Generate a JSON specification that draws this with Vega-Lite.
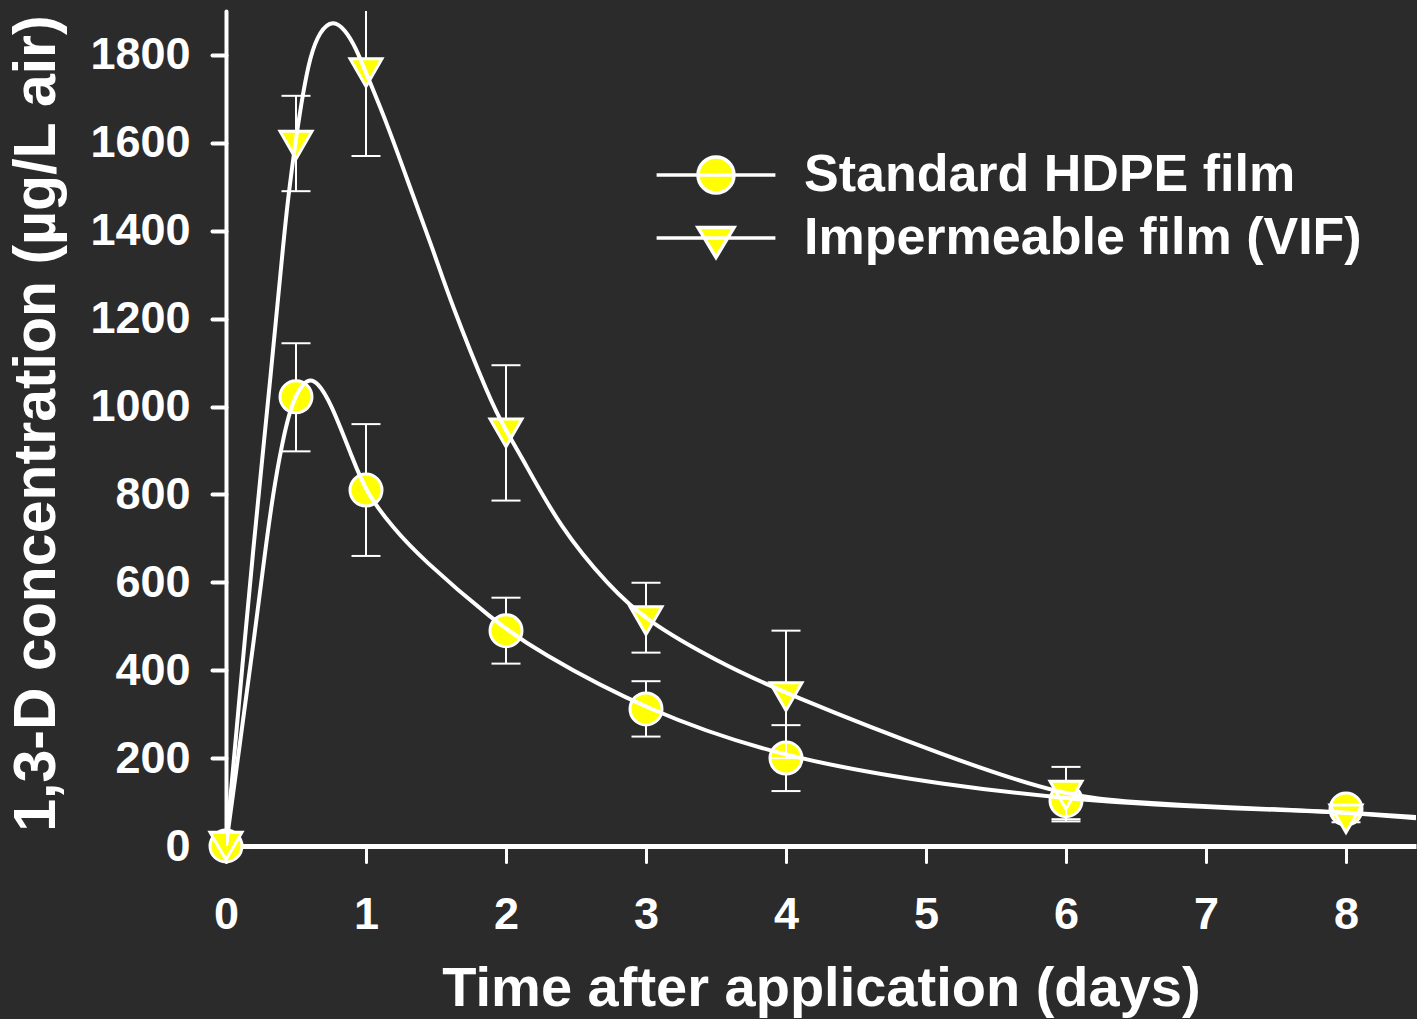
{
  "$schema": "https://vega.github.io/schema/vega-lite/v6.json",
  "width": 1190,
  "height": 835,
  "autosize": {"type": "none"},
  "padding": {"left": 226, "top": 11, "right": 1, "bottom": 173},
  "background": "#2b2b2b",
  "config": {"view": {"stroke": null}, "font": "Liberation Sans"},
  "datasets": {
    "points": [
      {"series": "Standard HDPE film", "t": 0, "v": 0, "lo": 0, "hi": 0},
      {"series": "Standard HDPE film", "t": 0.5, "v": 1022, "lo": 898, "hi": 1144},
      {"series": "Standard HDPE film", "t": 1, "v": 810, "lo": 660, "hi": 960},
      {"series": "Standard HDPE film", "t": 2, "v": 490, "lo": 415, "hi": 565},
      {"series": "Standard HDPE film", "t": 3, "v": 312, "lo": 249, "hi": 375},
      {"series": "Standard HDPE film", "t": 4, "v": 200, "lo": 125, "hi": 275},
      {"series": "Standard HDPE film", "t": 6, "v": 103, "lo": 61, "hi": 145},
      {"series": "Standard HDPE film", "t": 8, "v": 84, "lo": 74, "hi": 94},
      {"series": "Impermeable film (VIF)", "t": 0, "v": 0, "lo": 0, "hi": 0},
      {"series": "Impermeable film (VIF)", "t": 0.5, "v": 1595, "lo": 1490, "hi": 1707},
      {"series": "Impermeable film (VIF)", "t": 1, "v": 1760, "lo": 1570, "hi": 1950},
      {"series": "Impermeable film (VIF)", "t": 2, "v": 940, "lo": 786, "hi": 1094},
      {"series": "Impermeable film (VIF)", "t": 3, "v": 513, "lo": 440, "hi": 599},
      {"series": "Impermeable film (VIF)", "t": 4, "v": 340, "lo": 200, "hi": 490},
      {"series": "Impermeable film (VIF)", "t": 6, "v": 116, "lo": 56, "hi": 180},
      {"series": "Impermeable film (VIF)", "t": 8, "v": 62, "lo": 54, "hi": 70}
    ],
    "curves": [
      {"series": "Standard HDPE film", "t": 0, "v": 0},
      {"series": "Standard HDPE film", "t": 0.1, "v": 235},
      {"series": "Standard HDPE film", "t": 0.2, "v": 470},
      {"series": "Standard HDPE film", "t": 0.278, "v": 667},
      {"series": "Standard HDPE film", "t": 0.336, "v": 802},
      {"series": "Standard HDPE film", "t": 0.4, "v": 916},
      {"series": "Standard HDPE film", "t": 0.457, "v": 991},
      {"series": "Standard HDPE film", "t": 0.5, "v": 1026},
      {"series": "Standard HDPE film", "t": 0.55, "v": 1052},
      {"series": "Standard HDPE film", "t": 0.6, "v": 1062},
      {"series": "Standard HDPE film", "t": 0.65, "v": 1056},
      {"series": "Standard HDPE film", "t": 0.743, "v": 1014},
      {"series": "Standard HDPE film", "t": 0.91, "v": 877},
      {"series": "Standard HDPE film", "t": 1.0, "v": 805},
      {"series": "Standard HDPE film", "t": 1.19, "v": 725},
      {"series": "Standard HDPE film", "t": 1.39, "v": 656},
      {"series": "Standard HDPE film", "t": 1.91, "v": 513},
      {"series": "Standard HDPE film", "t": 2.22, "v": 444},
      {"series": "Standard HDPE film", "t": 3.0, "v": 308},
      {"series": "Standard HDPE film", "t": 4.0, "v": 198},
      {"series": "Standard HDPE film", "t": 5.17, "v": 137},
      {"series": "Standard HDPE film", "t": 6.0, "v": 108},
      {"series": "Standard HDPE film", "t": 6.5, "v": 97},
      {"series": "Standard HDPE film", "t": 7.0, "v": 88},
      {"series": "Standard HDPE film", "t": 7.55, "v": 82},
      {"series": "Standard HDPE film", "t": 8.0, "v": 76},
      {"series": "Standard HDPE film", "t": 8.5, "v": 63},
      {"series": "Impermeable film (VIF)", "t": 0, "v": 0},
      {"series": "Impermeable film (VIF)", "t": 0.1, "v": 350},
      {"series": "Impermeable film (VIF)", "t": 0.186, "v": 651},
      {"series": "Impermeable film (VIF)", "t": 0.33, "v": 1105},
      {"series": "Impermeable film (VIF)", "t": 0.4, "v": 1340},
      {"series": "Impermeable film (VIF)", "t": 0.443, "v": 1476},
      {"series": "Impermeable film (VIF)", "t": 0.505, "v": 1622},
      {"series": "Impermeable film (VIF)", "t": 0.55, "v": 1713},
      {"series": "Impermeable film (VIF)", "t": 0.6, "v": 1796},
      {"series": "Impermeable film (VIF)", "t": 0.67, "v": 1855},
      {"series": "Impermeable film (VIF)", "t": 0.764, "v": 1880},
      {"series": "Impermeable film (VIF)", "t": 0.85, "v": 1858},
      {"series": "Impermeable film (VIF)", "t": 0.93, "v": 1815},
      {"series": "Impermeable film (VIF)", "t": 1.0, "v": 1759},
      {"series": "Impermeable film (VIF)", "t": 1.15, "v": 1645},
      {"series": "Impermeable film (VIF)", "t": 1.34, "v": 1476},
      {"series": "Impermeable film (VIF)", "t": 1.48, "v": 1356},
      {"series": "Impermeable film (VIF)", "t": 1.6, "v": 1242},
      {"series": "Impermeable film (VIF)", "t": 1.886, "v": 1014},
      {"series": "Impermeable film (VIF)", "t": 2.0, "v": 945},
      {"series": "Impermeable film (VIF)", "t": 2.1, "v": 892},
      {"series": "Impermeable film (VIF)", "t": 2.39, "v": 722},
      {"series": "Impermeable film (VIF)", "t": 2.74, "v": 590},
      {"series": "Impermeable film (VIF)", "t": 3.0, "v": 513},
      {"series": "Impermeable film (VIF)", "t": 3.5, "v": 421},
      {"series": "Impermeable film (VIF)", "t": 4.0, "v": 346},
      {"series": "Impermeable film (VIF)", "t": 5.17, "v": 200},
      {"series": "Impermeable film (VIF)", "t": 6.0, "v": 112},
      {"series": "Impermeable film (VIF)", "t": 6.5, "v": 100},
      {"series": "Impermeable film (VIF)", "t": 7.0, "v": 90},
      {"series": "Impermeable film (VIF)", "t": 8.0, "v": 77},
      {"series": "Impermeable film (VIF)", "t": 8.5, "v": 66}
    ]
  },
  "encoding": {
    "x": {
      "field": "t", "type": "quantitative",
      "scale": {"domain": [0, 8.5], "nice": false, "zero": false},
      "axis": {
        "values": [0, 1, 2, 3, 4, 5, 6, 7, 8],
        "format": "d",
        "grid": false,
        "domainColor": "#ffffff", "domainWidth": 5,
        "tickColor": "#ffffff", "tickWidth": 3, "tickSize": 16, "tickCap": "round",
        "labelColor": "#ffffff", "labelFontSize": 45, "labelFontWeight": "bold",
        "labelFont": "Liberation Sans", "labelPadding": 30, "labelFlush": false, "labelOverlap": false,
        "title": "Time after application (days)",
        "titleColor": "#ffffff", "titleFontSize": 56, "titleFontWeight": "bold", "titleFont": "Liberation Sans",
        "titleBaseline": "alphabetic", "titleAlign": "center", "titleX": 595, "titleY": 159
      }
    },
    "y": {
      "field": "v", "type": "quantitative",
      "scale": {"domain": [0, 1900], "nice": false},
      "axis": {
        "values": [0, 200, 400, 600, 800, 1000, 1200, 1400, 1600, 1800],
        "format": "d",
        "grid": false,
        "domainColor": "#ffffff", "domainWidth": 4, "domainCap": "round",
        "tickColor": "#ffffff", "tickWidth": 4, "tickSize": 14, "tickCap": "round",
        "labelColor": "#ffffff", "labelFontSize": 45, "labelFontWeight": "bold",
        "labelFont": "Liberation Sans", "labelPadding": 22, "labelOverlap": false,
        "title": "1,3-D concentration (µg/L air)",
        "titleColor": "#ffffff", "titleFontSize": 59, "titleFontWeight": "bold", "titleFont": "Liberation Sans",
        "titleAngle": -90, "titleBaseline": "alphabetic", "titleAlign": "center", "titleX": -172, "titleY": 412
      }
    }
  },
  "layer": [
    {
      "data": {"name": "points"},
      "transform": [{"filter": "datum.series === 'Standard HDPE film' && datum.t > 0"}],
      "mark": {"type": "errorbar", "clip": true, "ticks": {"size": 29, "thickness": 2, "color": "#ffffff", "opacity": 1}, "rule": {"strokeWidth": 2, "color": "#ffffff"}},
      "encoding": {
        "y": {
          "field": "lo", "type": "quantitative",
          "axis": {
            "values": [0, 200, 400, 600, 800, 1000, 1200, 1400, 1600, 1800],
            "format": "d",
            "grid": false,
            "domainColor": "#ffffff", "domainWidth": 4, "domainCap": "round",
            "tickColor": "#ffffff", "tickWidth": 4, "tickSize": 14, "tickCap": "round",
            "labelColor": "#ffffff", "labelFontSize": 45, "labelFontWeight": "bold",
            "labelFont": "Liberation Sans", "labelPadding": 22, "labelOverlap": false,
            "title": "1,3-D concentration (µg/L air)",
            "titleColor": "#ffffff", "titleFontSize": 59, "titleFontWeight": "bold", "titleFont": "Liberation Sans",
            "titleAngle": -90, "titleBaseline": "alphabetic", "titleAlign": "center", "titleX": -172, "titleY": 412
          }
        },
        "y2": {"field": "hi"}
      }
    },
    {
      "data": {"name": "points"},
      "transform": [{"filter": "datum.series === 'Standard HDPE film'"}],
      "mark": {"type": "point", "shape": "circle", "filled": true, "fill": "#ffff00", "stroke": "#ffffff", "strokeWidth": 3, "size": 1024, "opacity": 1}
    },
    {
      "data": {"name": "points"},
      "transform": [{"filter": "datum.series === 'Impermeable film (VIF)' && datum.t > 0"}],
      "mark": {"type": "errorbar", "clip": true, "ticks": {"size": 29, "thickness": 2, "color": "#ffffff", "opacity": 1}, "rule": {"strokeWidth": 2, "color": "#ffffff"}},
      "encoding": {
        "y": {
          "field": "lo", "type": "quantitative",
          "axis": {
            "values": [0, 200, 400, 600, 800, 1000, 1200, 1400, 1600, 1800],
            "format": "d",
            "grid": false,
            "domainColor": "#ffffff", "domainWidth": 4, "domainCap": "round",
            "tickColor": "#ffffff", "tickWidth": 4, "tickSize": 14, "tickCap": "round",
            "labelColor": "#ffffff", "labelFontSize": 45, "labelFontWeight": "bold",
            "labelFont": "Liberation Sans", "labelPadding": 22, "labelOverlap": false,
            "title": "1,3-D concentration (µg/L air)",
            "titleColor": "#ffffff", "titleFontSize": 59, "titleFontWeight": "bold", "titleFont": "Liberation Sans",
            "titleAngle": -90, "titleBaseline": "alphabetic", "titleAlign": "center", "titleX": -172, "titleY": 412
          }
        },
        "y2": {"field": "hi"}
      }
    },
    {
      "data": {"name": "points"},
      "transform": [{"filter": "datum.series === 'Impermeable film (VIF)'"}],
      "mark": {"type": "point", "shape": "triangle-down", "filled": true, "fill": "#ffff00", "stroke": "#ffffff", "strokeWidth": 3, "size": 1024, "opacity": 1}
    },
    {
      "data": {"name": "curves"},
      "mark": {"type": "line", "interpolate": "basis", "color": "#ffffff", "strokeWidth": 4, "clip": true},
      "encoding": {"detail": {"field": "series"}}
    },
    {
      "data": {"name": "points"},
      "transform": [{"filter": "datum.t < 0"}],
      "mark": {"type": "point", "filled": true, "strokeWidth": 3.5, "opacity": 1},
      "encoding": {
        "shape": {
          "field": "series", "type": "nominal",
          "scale": {
            "domain": ["Standard HDPE film", "Impermeable film (VIF)"],
            "range": ["M-1,0A1,1,0,1,1,1,0A1,1,0,1,1,-1,0ZM-3.3,0L3.3,0", "M-1,-0.58L1,-0.58L0,1.08ZM-3.3,0L3.3,0"]
          },
          "legend": {
            "title": null, "orient": "none", "legendX": 464, "legendY": 138,
            "padding": 0, "symbolSize": 1296, "symbolStrokeWidth": 3.5, "symbolOpacity": 1,
            "labelColor": "#ffffff", "labelFontSize": 52, "labelFontWeight": "bold", "labelFont": "Liberation Sans",
            "labelLimit": 2000, "labelOffset": 62, "rowPadding": 11
          }
        },
        "fill": {
          "field": "series", "type": "nominal",
          "scale": {"domain": ["Standard HDPE film", "Impermeable film (VIF)"], "range": ["#ffff00", "#ffff00"]},
          "legend": {
            "title": null, "orient": "none", "legendX": 464, "legendY": 138,
            "padding": 0, "symbolSize": 1296, "symbolStrokeWidth": 3.5, "symbolOpacity": 1,
            "labelColor": "#ffffff", "labelFontSize": 52, "labelFontWeight": "bold", "labelFont": "Liberation Sans",
            "labelLimit": 2000, "labelOffset": 62, "rowPadding": 11
          }
        },
        "stroke": {
          "field": "series", "type": "nominal",
          "scale": {"domain": ["Standard HDPE film", "Impermeable film (VIF)"], "range": ["#ffffff", "#ffffff"]},
          "legend": {
            "title": null, "orient": "none", "legendX": 464, "legendY": 138,
            "padding": 0, "symbolSize": 1296, "symbolStrokeWidth": 3.5, "symbolOpacity": 1,
            "labelColor": "#ffffff", "labelFontSize": 52, "labelFontWeight": "bold", "labelFont": "Liberation Sans",
            "labelLimit": 2000, "labelOffset": 62, "rowPadding": 11
          }
        }
      }
    }
  ]
}
